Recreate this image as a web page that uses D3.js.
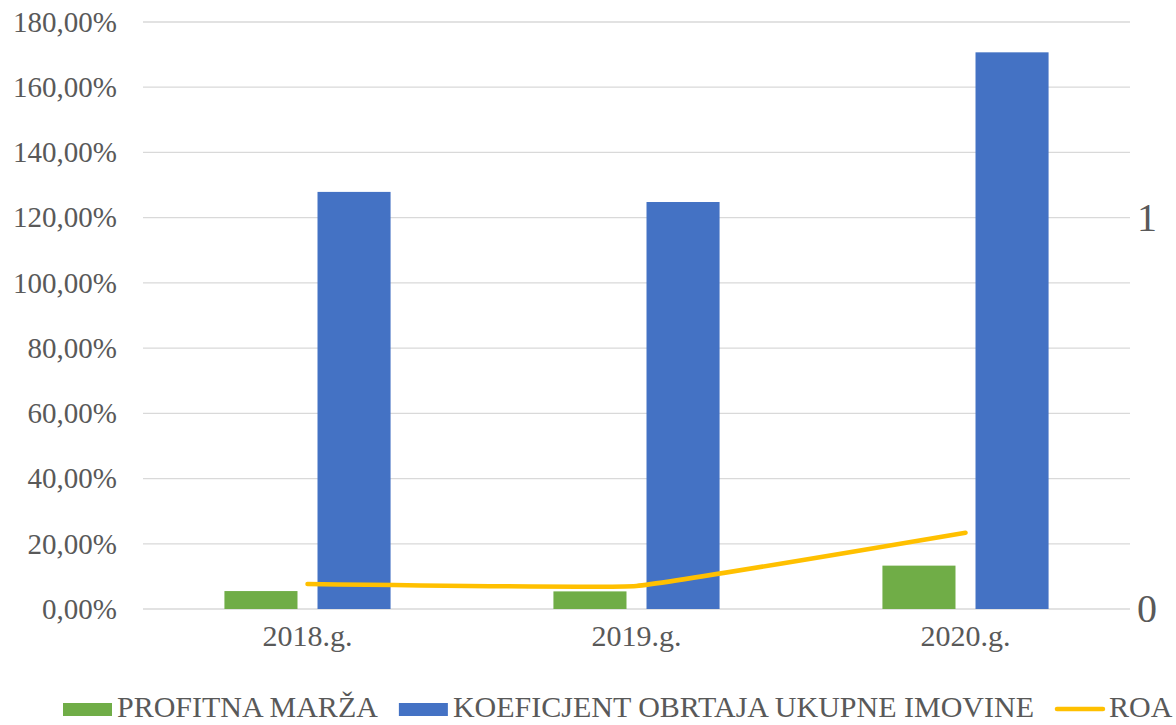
<!DOCTYPE html>
<html>
<head>
<meta charset="utf-8">
<script src="https://cdn.jsdelivr.net/npm/d3@7"></script>
<style>
  body { margin: 0; background: #fff; }
  svg text { font-family: "Liberation Serif", "Times New Roman", serif; fill: #595959; }
</style>
</head>
<body>
<div id="chart"></div>
<script>
// data
const years = ['2018.g.', '2019.g.', '2020.g.'];
const profitnaMarza = [0.055, 0.054, 0.133];      // left axis (percent)
const koeficijent = [1.279, 1.248, 1.707];        // left axis (percent)
const roa = [0.064, 0.059, 0.195];                // right axis
const leftTicks = [0, 0.2, 0.4, 0.6, 0.8, 1.0, 1.2, 1.4, 1.6, 1.8];
const rightTicks = [0, 1];
const seriesNames = ['PROFITNA MARŽA', 'KOEFICJENT OBRTAJA UKUPNE IMOVINE', 'ROA'];
const colors = ['#70AD47', '#4472C4', '#FFC000'];

const config = {
    width: 1176,
    height: 725,
    margin: {top: 22, right: 46, bottom: 116, left: 143}
};
const width = config.width - config.margin.left - config.margin.right;
const height = config.height - config.margin.top - config.margin.bottom;

const svg = d3.select('#chart').append('svg')
    .attr('width', config.width)
    .attr('height', config.height);
const g = svg.append('g')
    .attr('transform', `translate(${config.margin.left},${config.margin.top})`);

// Scales
const x0 = d3.scaleBand().domain(years).range([0, width])
    .paddingInner(0.495).paddingOuter(0.2475);
const barKeys = [0, 1];
const x1 = d3.scaleBand().domain(barKeys).range([0, x0.bandwidth()])
    .paddingInner(0.215).paddingOuter(0);
const yLeft = d3.scaleLinear().domain([0, 1.8]).range([height, 0]);
const yRight = d3.scaleLinear().domain([0, 1.5]).range([height, 0]);

// gridlines
g.append('g').selectAll('line').data(leftTicks).join('line')
    .attr('x1', 0).attr('x2', width)
    .attr('y1', d => yLeft(d)).attr('y2', d => yLeft(d))
    .attr('stroke', '#D9D9D9').attr('stroke-width', 1.3);

// left axis
const fmt = d => d3.format('.2f')(d * 100).replace('.', ',') + '%';
const yAxisG = g.append('g')
    .call(d3.axisLeft(yLeft).tickValues(leftTicks).tickFormat(fmt).tickSize(0).tickPadding(26));
yAxisG.select('.domain').remove();
yAxisG.selectAll('text').style('font-size', '29px').attr('fill', '#595959');

// right axis (bigger digits in the reference)
const yRAxisG = g.append('g').attr('transform', `translate(${width},0)`)
    .call(d3.axisRight(yRight).tickValues(rightTicks).tickFormat(d3.format('d')).tickSize(0).tickPadding(7));
yRAxisG.select('.domain').remove();
yRAxisG.selectAll('text').style('font-size', '40px').attr('fill', '#595959');

// x axis
const xAxisG = g.append('g').attr('transform', `translate(0,${height})`)
    .call(d3.axisBottom(x0).tickSize(0).tickPadding(16));
xAxisG.select('.domain').remove();
xAxisG.selectAll('text').style('font-size', '30px').attr('fill', '#595959');

// bars
const barData = years.map((y, i) => ({year: y, vals: [profitnaMarza[i], koeficijent[i]]}));
const groups = g.append('g').selectAll('g').data(barData).join('g')
    .attr('transform', d => `translate(${x0(d.year)},0)`);
groups.selectAll('rect').data(d => d.vals.map((v, k) => ({k, v}))).join('rect')
    .attr('x', d => x1(d.k))
    .attr('width', x1.bandwidth())
    .attr('y', d => yLeft(d.v))
    .attr('height', d => yLeft(0) - yLeft(d.v))
    .attr('fill', d => colors[d.k]);

// ROA line, only lightly smoothed
const line = d3.line()
    .x((d, i) => x0(years[i]) + x0.bandwidth() / 2)
    .y(d => yRight(d))
    .curve(d3.curveCardinal.tension(0.75));
g.append('path').datum(roa)
    .attr('d', line)
    .attr('fill', 'none')
    .attr('stroke', colors[2])
    .attr('stroke-width', 4.5)
    .attr('stroke-linecap', 'round')
    .attr('stroke-linejoin', 'round');

// legend
const legend = svg.append('g').attr('transform', 'translate(63,717)');
let lx = 0;
seriesNames.forEach((name, i) => {
    const item = legend.append('g').attr('transform', `translate(${lx},0)`);
    if (i < 2) {
        item.append('rect').attr('x', 0).attr('y', -14).attr('width', 49).attr('height', 13)
            .attr('fill', colors[i]);
    } else {
        item.append('line').attr('x1', 2).attr('x2', 48).attr('y1', -8).attr('y2', -8)
            .attr('stroke', colors[i]).attr('stroke-width', 4.5).attr('stroke-linecap', 'round');
    }
    const t = item.append('text').attr('x', i < 2 ? 54 : 54).attr('y', 0)
        .style('font-size', '30px').text(name);
    lx += 54 + t.node().getComputedTextLength() + 21;
});
</script>
</body>
</html>
